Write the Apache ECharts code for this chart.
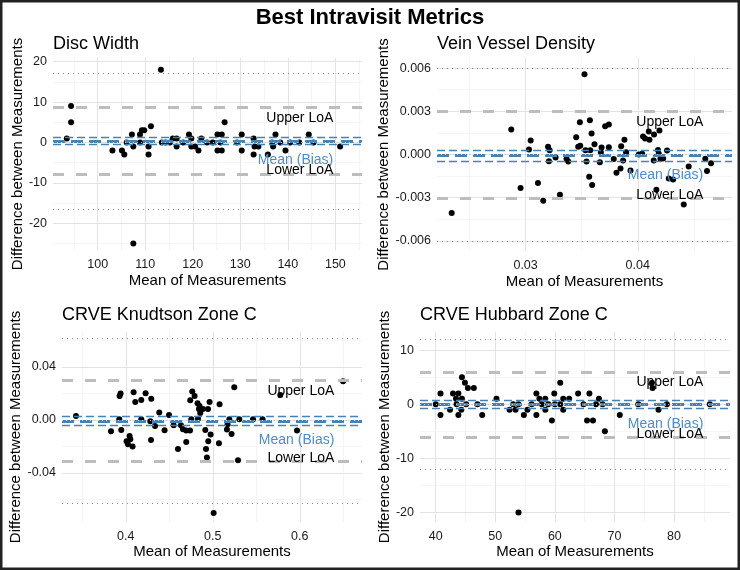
<!DOCTYPE html>
<html><head><meta charset="utf-8">
<script src="https://cdn.jsdelivr.net/npm/echarts@6/dist/echarts.min.js"></script>
<style>html,body{margin:0;padding:0;background:#fff}#c{width:740px;height:570px}</style>
</head><body><div id="c"></div><script>
// ---------- data ----------
const panelTitles = ['Disc Width', 'Vein Vessel Density', 'CRVE Knudtson Zone C', 'CRVE Hubbard Zone C'];

const discX = [93.5,94.4,94.4,103.1,105.1,105.6,106.1,107.2,107.5,107.5,108.9,109.3,109.8,108.9,110.7,110.7,111.2,113.3,113.5,114.3,115.2,115.8,116.6,116.6,118.0,119.2,119.7,119.7,120.5,121.2,121.8,123.0,124.2,125.2,125.2,126.1,126.1,126.7,125.8,129.3,130.3,130.3,132.8,132.8,133.0,133.8,135.8,136.7,136.9,137.4,138.4,139.5,140.5,142.4,144.4,145.4,151.0];
const discY = [1,9,5,-2,-2,-3,0,2,-1,-25,2,3,3,0,-1,-3,4,18,0,0,0,1,1,-1,0,2,1,-1,-1,-2,1,0,0,2,-2,2,-2,5,0,0,2,-2,1,-3,-1,-1,-3,0,-1,2,0,-2,0,0,2,0,-1];

const veinX = [0.02341,0.02872,0.02955,0.03045,0.0303,0.0311,0.03157,0.0320,0.03214,0.03208,0.03267,0.03306,0.03365,0.0338,0.03451,0.03484,0.03469,0.03487,0.03525,0.03534,0.03543,0.03567,0.03573,0.03588,0.03576,0.03593,0.03614,0.03662,0.03677,0.03671,0.03709,0.03742,0.03742,0.03786,0.0381,0.03846,0.03881,0.03869,0.03852,0.03896,0.03935,0.04009,0.04039,0.04047,0.04065,0.04098,0.04104,0.04145,0.04193,0.04142,0.0418,0.04187,0.04202,0.04166,0.04226,0.04261,0.04276,0.04315,0.0441,0.04454,0.04602,0.04653,0.04617];
const veinY = [-0.00406,0.00173,-0.00233,0.00097,0.00035,-0.00198,-0.00321,0.00053,0.0003,-0.00046,-0.00021,-0.00279,-0.0003,-0.00048,0.0012,0.00224,0.00053,0.0006,0.00558,0.0003,-0.00048,-0.00155,0.00238,0.00145,0.0003,-0.00212,0.00072,-0.00053,0.00048,0.00016,0.00196,0.00208,0.00051,-0.00032,-0.00127,-0.00097,0.00102,-0.00042,0.00058,0.00016,-0.00111,0,0.00005,0.00125,0.00111,0.00159,0.00102,0.00138,0.00166,-0.00042,0.00032,0.00005,-0.0003,-0.00245,-0.00028,0.00028,-0.00166,-0.00173,-0.00348,-0.00083,-0.0003,-0.0006,-0.00115];

const knudX = [0.3428,0.383,0.3929,0.394,0.3948,0.3925,0.4009,0.4025,0.4044,0.4052,0.4078,0.409,0.4109,0.4178,0.4228,0.4293,0.4178,0.4282,0.4336,0.429,0.4385,0.4446,0.4497,0.455,0.46,0.4634,0.4657,0.4695,0.4738,0.4695,0.4741,0.4764,0.4791,0.4753,0.4825,0.4848,0.4841,0.4856,0.4887,0.4945,0.4963,0.483,0.4914,0.4975,0.4948,0.4922,0.4933,0.501,0.5078,0.5071,0.517,0.5163,0.519,0.5216,0.5247,0.529,0.5305,0.5462,0.5572,0.5776,0.5968,0.6497];
const knudY = [0.0030,-0.0085,0.0181,0.0199,-0.0075,0.0005,-0.0161,-0.0183,-0.0121,-0.0146,-0.0201,0.0209,0.0136,0.0151,0.0201,0.0161,0.0005,-0.001,-0.0045,-0.0151,0.0056,-0.0078,0.0038,-0.004,-0.0219,-0.004,-0.007,-0.008,-0.008,-0.0166,0.0149,0.0214,0.0181,0.0005,0.0126,0.0106,0.0083,0.0053,0.0083,0.0083,0.0136,0.001,-0.0075,-0.011,-0.0161,-0.0219,-0.0284,-0.0702,0.0118,-0.0176,-0.0032,-0.0072,0.0005,-0.0106,0.0247,-0.0304,0.0005,0.0005,0.0005,0.0189,-0.008,0.0292];

const hubX = [40,40.8,40.8,42.4,42.9,43.4,43.8,43.8,44.4,44.4,44.3,44.9,45.1,45.4,46.4,47,47.8,50.2,52.4,53,53.4,53.9,53.9,54.8,55.4,56.1,56.9,56.9,57.4,57.8,58.4,58.4,58.9,59.5,59.9,60,60.9,60.9,61.4,61.4,62.4,63.9,64.8,65.4,65.8,66.4,66.9,67.4,68,68.4,70.9,74,76.3,76.4,77.4,78.8,86,43.5];
const hubY = [0,2,-2,-1,2,1,2,-2,5,1,-1,4,0,3,3,0,-2,1,-1,0,-1,-20,0,-2,-1,0,2,-2,1,0,1,-1,0,-3,2,0,4,0,1,-1,1,2,0,-3,2,-3,0,1,0,-5,-2,0,4,3,-1,0,0,0];

// reference lines (per panel: Disc, Vein, Knudtson, Hubbard)
const meanBias   = [0.4, -0.00008, -0.0007, -0.03];
const ciUpper    = [1.2, 0.00028, 0.0029, 0.75];
const ciLower    = [-0.4, -0.00045, -0.0043, -0.8];
const upperLoA   = [8.6, 0.0030, 0.0300, 6.0];
const lowerLoA   = [-7.8, -0.00305, -0.0312, -6.1];
const outerUpper = [17.1, 0.0060, 0.0614, 12.1];
const outerLower = [-16.5, -0.0060, -0.0631, -12.1];
const labelX     = [149.56, 0.04584, 0.6397, 84.92];

// tick values
const xMajor = [[100,110,120,130,140,150],[0.03,0.04],[0.4,0.5,0.6],[40,50,60,70,80]];
const xMinor = [[95,105,115,125,135,145,155],[0.025,0.035,0.045],[0.35,0.45,0.55,0.65],[45,55,65,75,85]];
const yMajor = [[-20,-10,0,10,20],[-0.006,-0.003,0,0.003,0.006],[-0.04,0,0.04],[-20,-10,0,10]];
const yMinor = [[-25,-15,-5,5,15],[-0.0045,-0.0015,0.0015,0.0045],[-0.06,-0.02,0.02,0.06],[-15,-5,5]];
const xDec = [0,2,1,0];
const yDec = [0,3,2,0];

// ---------- layout ----------
const xs = [discX, veinX, knudX, hubX];
const ys = [discY, veinY, knudY, hubY];
const grids = [
  {left:53, top:58, width:309, height:192},
  {left:437, top:58, width:295, height:193},
  {left:62, top:332, width:300, height:190},
  {left:420, top:332, width:310, height:190}
];
const xRange = [[90.6,155.6],[0.0221,0.0484],[0.3267,0.6715],[37.36,89.4]];
const yRange = [[-26.6,20.9],[-0.0067,0.0067],[-0.077,0.0664],[-21.76,13.36]];
const yNameGap = [28, 42, 37, 27];
const xNameGap = [23, 23, 21, 21];
const titleTop = [30, 30, 301, 301];

const FF = '"Liberation Sans", Arial, sans-serif';
const BLUE = '#4682B4';

const option = {
  animation: false,
  backgroundColor: '#fff',
  textStyle: {fontFamily: FF},
  title: [{text:'Best Intravisit Metrics', left:'center', top:2,
           textStyle:{fontSize:22, fontWeight:'bold', color:'#000', fontFamily:FF}}]
    .concat(panelTitles.map((t,i)=>({text:t, left:grids[i].left - 5, top:titleTop[i],
           textStyle:{fontSize:18, fontWeight:'normal', color:'#000', fontFamily:FF}}))),
  grid: grids.map(g=>Object.assign({containLabel:false}, g)),
  xAxis: grids.map((g,i)=>({
    gridIndex:i, type:'value', min:xRange[i][0], max:xRange[i][1],
    axisLine:{show:false}, axisTick:{show:false}, splitLine:{show:false},
    axisLabel:{customValues:xMajor[i], formatter:v=>Number(v).toFixed(xDec[i]), color:'#1a1a1a', fontSize:12.5, margin:8, fontFamily:FF},
    name:'Mean of Measurements', nameLocation:'middle', nameGap:xNameGap[i],
    nameTextStyle:{fontSize:15, color:'#000', fontFamily:FF}
  })),
  yAxis: grids.map((g,i)=>({
    gridIndex:i, type:'value', min:yRange[i][0], max:yRange[i][1],
    axisLine:{show:false}, axisTick:{show:false}, splitLine:{show:false},
    axisLabel:{customValues:yMajor[i], formatter:v=>Number(v).toFixed(yDec[i]), color:'#1a1a1a', fontSize:12.5, margin:6, fontFamily:FF},
    name:'Difference between Measurements', nameLocation:'middle', nameGap:yNameGap[i],
    nameTextStyle:{fontSize:15, color:'#000', fontFamily:FF}
  })),
  graphic: [{type:'rect', shape:{x:1.25, y:1.25, width:737.5, height:567.5},
             style:{fill:'none', stroke:'#222', lineWidth:2.5}, z:100}],
  series: []
};

for (let i = 0; i < 4; i++) {
  const gridData = [];
  xMajor[i].forEach(v=>gridData.push({xAxis:v, lineStyle:{color:'#e3e3e3', width:1, type:'solid'}}));
  xMinor[i].forEach(v=>gridData.push({xAxis:v, lineStyle:{color:'#f1f1f1', width:0.7, type:'solid'}}));
  yMajor[i].forEach(v=>gridData.push({yAxis:v, lineStyle:{color:'#e3e3e3', width:1, type:'solid'}}));
  yMinor[i].forEach(v=>gridData.push({yAxis:v, lineStyle:{color:'#f1f1f1', width:0.7, type:'solid'}}));
  option.series.push({
    type:'scatter', xAxisIndex:i, yAxisIndex:i, data:[], z:1, silent:true,
    markLine:{z:1, silent:true, symbol:'none', precision:10, label:{show:false}, animation:false, data:gridData}
  });
  option.series.push({
    type:'scatter', xAxisIndex:i, yAxisIndex:i, z:2, symbolSize:6,
    itemStyle:{color:'#000', opacity:1},
    data: xs[i].map((x,k)=>[x, ys[i][k]])
  });
  option.series.push({
    type:'scatter', xAxisIndex:i, yAxisIndex:i, data:[], z:3, silent:true,
    markLine:{z:3, silent:true, symbol:'none', precision:10, label:{show:false}, animation:false, data:[
      {yAxis:outerUpper[i], lineStyle:{color:'#8a8a8a', width:1, type:[1,4]}},
      {yAxis:outerLower[i], lineStyle:{color:'#8a8a8a', width:1, type:[1,4]}},
      {yAxis:upperLoA[i], lineStyle:{color:'#bdbdbd', width:3, type:[11,12]}},
      {yAxis:lowerLoA[i], lineStyle:{color:'#bdbdbd', width:3, type:[11,12]}},
      {yAxis:ciUpper[i], lineStyle:{color:BLUE, width:1.3, type:[8,4]}},
      {yAxis:ciLower[i], lineStyle:{color:BLUE, width:1.3, type:[8,4]}},
      {yAxis:meanBias[i], lineStyle:{color:BLUE, width:3, type:[12,6]}},
      {yAxis:0, lineStyle:{color:'#c8c8c8', width:1, type:[1,3]}}
    ]}
  });
  option.series.push({
    type:'scatter', xAxisIndex:i, yAxisIndex:i, z:4, symbolSize:0, silent:true,
    itemStyle:{color:'#000', opacity:1},
    label:{show:true, position:'inside', align:'right', verticalAlign:'middle', fontSize:14, fontFamily:FF,
           textBorderWidth:0, textShadowBlur:0, opacity:1},
    data:[
      {value:[labelX[i], upperLoA[i]], label:{formatter:'Upper LoA', offset:[0,10.5], color:'#000'}},
      {value:[labelX[i], meanBias[i]], label:{formatter:'Mean (Bias)', offset:[0,19.7], color:'#4f8ccc'}},
      {value:[labelX[i], lowerLoA[i]], label:{formatter:'Lower LoA', offset:[0,-3.5], color:'#000'}}
    ]
  });
}

const chart = echarts.init(document.getElementById('c'), null, {renderer:'canvas'});
chart.setOption(option);
</script></body></html>
